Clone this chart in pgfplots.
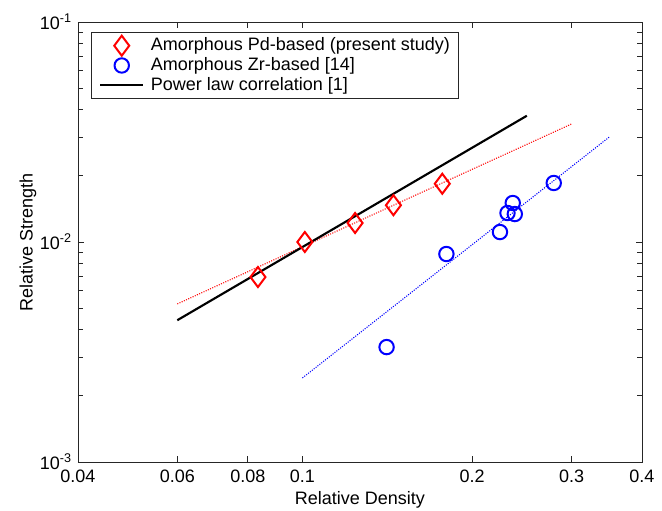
\documentclass[border=0pt]{standalone}
\usepackage{pgfplots}
\pgfplotsset{compat=1.18}
\usepackage{fontspec}
\setmainfont{Liberation Sans}
\definecolor{mred}{RGB}{255,0,0}
\definecolor{mblue}{RGB}{0,0,255}

\begin{document}
\fontsize{13.5}{16}\selectfont
\begin{tikzpicture}
  % fixed frame: 662x511 px at 0.75pt per px
  \useasboundingbox (-58.5pt,-36.75pt) rectangle (438pt,346.5pt);
  \begin{axis}[
    scale only axis,
    width=423pt, height=330pt,
    xmode=log, ymode=log,
    xmin=0.04, xmax=0.4, ymin=0.001, ymax=0.1,
    xtick={0.04,0.06,0.08,0.1,0.2,0.3,0.4},
    xticklabels={0.04,0.06,0.08,0.1,0.2,0.3,0.4},
    minor xtick={},
    ytick={0.001,0.01,0.1},
    yticklabels={10\textsuperscript{-3},10\textsuperscript{-2},10\textsuperscript{-1}},
    minor ytick={0.002,0.003,0.004,0.005,0.006,0.007,0.008,0.009,
                 0.02,0.03,0.04,0.05,0.06,0.07,0.08,0.09},
    tick align=inside,
    major tick length=4.5pt, minor tick length=3.5pt,
    axis line style={line width=0.6pt, black!85},
    tick style={line width=0.5pt, black!85},
    xlabel={Relative Density}, ylabel={Relative Strength},
    xlabel style={at={(axis description cs:0.5,-0.086)}, anchor=center},
    ylabel style={at={(axis description cs:-0.0887,0.5)}, anchor=center, rotate=0},
    tick label style={font=\fontsize{13.5}{16}\selectfont},
    xticklabel style={yshift=-1.5pt},
    label style={font=\fontsize{13.5}{16}\selectfont},
    legend cell align=left,
    legend style={at={(axis description cs:0.023,0.977)}, anchor=north west,
      draw=black!85, line width=0.6pt, inner xsep=4pt, inner ysep=2pt,
      row sep=-1pt,
      font=\fontsize{13.5}{16}\selectfont},
    legend image code/.code={%
      \path (0pt,0pt) (37pt,0pt);
      \draw[mark repeat=2,mark phase=2] plot coordinates {(2pt,0pt)(18pt,0pt)(34pt,0pt)};},
  ]
    % fitted trends (not in legend)
    \addplot[forget plot, mred, densely dotted, line width=0.8pt]
      coordinates {(0.06,0.00523)(0.30,0.0344)};
    \addplot[forget plot, mblue, densely dotted, line width=0.8pt]
      coordinates {(0.1,0.00241)(0.35,0.030)};
    % Pd-based samples
    \addplot[only marks, mark=diamond, mark size=7.5pt, color=mred,
      mark options={solid, line width=1.5pt}]
      coordinates {(0.0834,0.00693)(0.101,0.0100)(0.124,0.0122)(0.145,0.0147)(0.177,0.0184)};
    \addlegendentry{Amorphous Pd-based (present study)}
    % Zr-based samples
    \addplot[only marks, mark=o, mark size=5.4pt, color=mblue,
      mark options={solid, line width=1.5pt}]
      coordinates {(0.141,0.00333)(0.180,0.00882)(0.224,0.0111)(0.231,0.01355)
                   (0.236,0.01504)(0.238,0.0134)(0.279,0.01855)};
    \addlegendentry{Amorphous Zr-based [14]}
    % power law 0.3*rho^1.5
    \addplot[black, line width=1.6pt]
      coordinates {(0.06,0.00441)(0.25,0.0375)};
    \addlegendentry{Power law correlation [1]}
  \end{axis}
\end{tikzpicture}
\end{document}
